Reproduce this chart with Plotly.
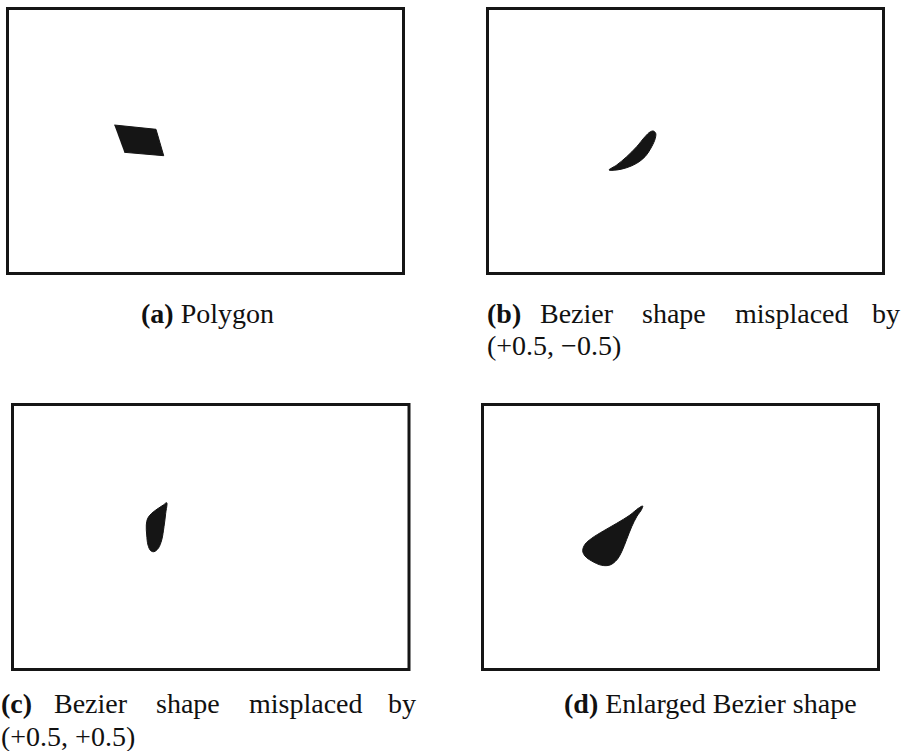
import plotly.graph_objects as go

# page size in pixels
W, H = 904, 751
ink = '#151515'

# ---- data: outlines of the shapes, in pixels inside each frame (y up) ----
poly_a_x = [106.8, 148.5, 156.2, 116.8]
poly_a_y = [148.5, 144.2, 117.8, 121.2]

bez_b_x = [121.5, 129.2, 139.2, 149.2, 157.5, 162.5, 165.8, 168.2, 167.8, 164.2, 157.5, 149.2, 139.2, 129.2, 121.5]
bez_b_y = [103.5, 108.5, 116.8, 126.8, 136.8, 141.5, 142.5, 140.2, 135.2, 126.8, 116.8, 110.2, 105.8, 103.5, 103.5]

bez_c_x = [154.2, 153.2, 151.5, 149.2, 145.8, 141.5, 138.2, 135.5, 134.2, 133.8, 135.2, 139.2, 145.8, 150.8, 154.2]
bez_c_y = [166.8, 156.2, 142.8, 129.5, 121.2, 117.8, 118.8, 124.5, 134.5, 144.5, 151.2, 156.2, 161.2, 164.5, 166.8]

bez_d_x = [160.2, 155.8, 147.5, 134.2, 120.8, 109.2, 102.5, 100.2, 102.5, 109.2, 119.2, 127.5, 134.2, 139.2, 144.2, 149.2, 154.2, 159.2, 160.2]
bez_d_y = [163.5, 161.2, 154.5, 146.2, 138.5, 131.2, 125.2, 118.8, 113.5, 108.5, 104.2, 104.5, 109.5, 117.8, 130.2, 142.8, 152.8, 160.2, 163.5]

# caption texts
labels = ['(a)', '(b)', '(c)', '(d)']
cap_a = 'Polygon'
cap_bc_words = ['Bezier', 'shape', 'misplaced', 'by']
cap_b2 = '(+0.5, \u22120.5)'
cap_c2 = '(+0.5, +0.5)'
cap_d = 'Enlarged Bezier shape'

# ---- layout: frame boxes (left, top, right, bottom) in page pixels ----
frames = [
    (7.5, 8.5, 403.5, 273.5),
    (487.5, 8.5, 883.5, 273.5),
    (12.5, 404.5, 409.0, 669.5),
    (482.5, 404.5, 878.5, 669.5),
]

shapes = [
    (poly_a_x, poly_a_y, 'linear'),
    (bez_b_x, bez_b_y, 'spline'),
    (bez_c_x, bez_c_y, 'spline'),
    (bez_d_x, bez_d_y, 'spline'),
]

fig = go.Figure()

for i, (sx, sy, shp) in enumerate(shapes):
    n = '' if i == 0 else str(i + 1)
    l, t, r, b = frames[i]
    fig.add_trace(go.Scatter(
        x=sx, y=sy,
        xaxis='x' + n, yaxis='y' + n,
        mode='lines',
        fill='toself',
        fillcolor=ink,
        line=dict(color=ink, width=1, shape=shp, smoothing=1),
        hoverinfo='skip',
    ))
    fig.layout['xaxis' + n] = dict(domain=[l / W, r / W], range=[0, r - l], visible=False, fixedrange=True)
    fig.layout['yaxis' + n] = dict(domain=[1 - b / H, 1 - t / H], range=[0, b - t], visible=False, fixedrange=True)
    # the frame
    fig.add_shape(type='rect', xref='x' + n + ' domain', yref='y' + n + ' domain',
                  x0=0, x1=1, y0=0, y1=1, line=dict(color=ink, width=3))

fnt = dict(family='Liberation Serif', size=28, color='#111111')


def cap(text, x, y, anchor):
    fig.add_annotation(text=text, x=x / W, y=1 - y / H, xref='paper', yref='paper',
                       xanchor=anchor, yanchor='middle', showarrow=False, font=fnt)


# (a)
cap('<b>' + labels[0] + '</b> ' + cap_a, 207.5, 313, 'center')

# (b) and (c): justified first line, then second line
for lab, x0, x1, y1, y2, second in [(labels[1], 485, 902, 313, 346, cap_b2),
                                    (labels[2], -1, 418, 703, 736, cap_c2)]:
    cap('<b>' + lab + '</b>', x0, y1, 'left')
    mids = [91.5, 189, 306.5]
    for w, m in zip(cap_bc_words[:3], mids):
        cap(w, x0 + m, y1, 'center')
    cap(cap_bc_words[3], x1, y1, 'right')
    cap(second, x0, y2, 'left')

# (d)
cap('<b>' + labels[3] + '</b> ' + cap_d, 710, 703, 'center')

fig.update_layout(
    width=W, height=H,
    margin=dict(l=0, r=0, t=0, b=0),
    paper_bgcolor='white',
    plot_bgcolor='white',
    showlegend=False,
)

# page body has a default 8px margin; drop it so the figure fills the window
fig.write_html('out.html', config={'displayModeBar': False},
               post_script="document.body.style.margin='0';")
